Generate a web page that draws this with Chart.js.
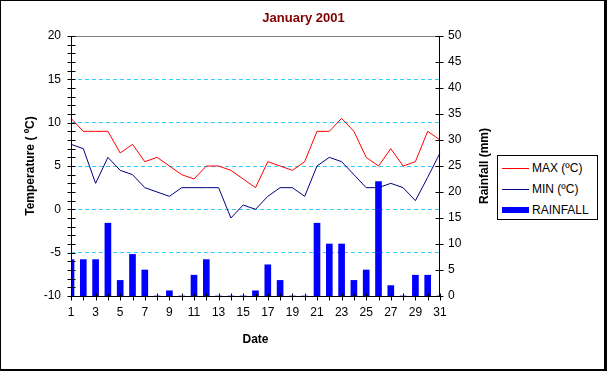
<!DOCTYPE html>
<html>
<head>
<meta charset="utf-8">
<script src="https://cdn.jsdelivr.net/npm/chart.js@4.4.1/dist/chart.umd.min.js"></script>
<style>
  body { margin: 0; background: #fff; }
  #wrap { position: relative; width: 607px; height: 371px; }
  #legend { position: absolute; left: 497px; top: 155px; width: 99px; height: 63px;
            border: 1px solid #000; background: #fff;
            font: 12px 'Liberation Sans', Arial, sans-serif; color: #000; }
  #legend .sw { position: absolute; left: 4px; width: 27px; }
  #legend .tx { position: absolute; left: 34px; height: 14px; line-height: 14px; white-space: nowrap; }
</style>
</head>
<body>
<div id="wrap">
  <canvas id="chart" width="607" height="371"></canvas>
  <div id="legend"></div>
</div>
<script>
const days = ['1','2','3','4','5','6','7','8','9','10','11','12','13','14','15','16',
              '17','18','19','20','21','22','23','24','25','26','27','28','29','30','31'];
const maxTemp = [10.5, 9, 9, 9, 6.5, 7.5, 5.5, 6, 5, 4, 3.5, 5, 5, 4.5, 3.5, 2.5,
                 5.5, 5, 4.5, 5.5, 9, 9, 10.5, 9, 6, 5, 7, 5, 5.5, 9, 8];
const minTemp = [7.5, 7, 3, 6, 4.5, 4, 2.5, 2, 1.5, 2.5, 2.5, 2.5, 2.5, -1, 0.5, 0,
                 1.5, 2.5, 2.5, 1.5, 5, 6, 5.5, 4, 2.5, 2.5, 3, 2.5, 1, 3.7, 6.5];
const rainfall = [7, 7, 7, 14, 3, 8, 5, 0, 1, 0, 4, 7, 0, 0, 0, 1,
                  6, 3, 0, 0, 14, 10, 10, 3, 5, 22, 2, 0, 4, 4, 0];

const FONT = "'Liberation Sans', Arial, sans-serif";
const tickFont = { family: FONT, size: 12 };
const titleFont = { family: FONT, size: 12, weight: 'bold' };

// axis lines, crossing tick marks, plot border, right axis title, outer frame
const framePlugin = {
    id: 'frame',
    afterDraw(chart) {
        const { ctx, chartArea, scales } = chart;
        const L = Math.round(chartArea.left) + 0.5;
        const R = Math.round(chartArea.right) - 0.5;
        const T = Math.round(chartArea.top) + 0.5;
        const B = Math.round(chartArea.bottom) + 0.5;
        ctx.save();
        ctx.lineWidth = 1;

        ctx.strokeStyle = '#808080';
        ctx.beginPath(); ctx.moveTo(L, T); ctx.lineTo(R, T); ctx.stroke();

        ctx.strokeStyle = '#000';
        ctx.beginPath();
        ctx.moveTo(L, T - 0.5); ctx.lineTo(L, B);
        ctx.moveTo(R, T - 0.5); ctx.lineTo(R, B);
        ctx.moveTo(L, B); ctx.lineTo(R, B);
        for (let v = -10; v <= 20; v++) {
            const y = Math.round(scales.temp.getPixelForValue(v)) + 0.5;
            ctx.moveTo(L - 4, y); ctx.lineTo(L + 4, y);
        }
        for (let v = 0; v <= 50; v += 5) {
            const y = Math.round(scales.rain.getPixelForValue(v)) + 0.5;
            ctx.moveTo(R - 4, y); ctx.lineTo(R + 4, y);
        }
        for (let i = 0; i < days.length; i++) {
            const x = Math.round(scales.x.getPixelForValue(i)) + 0.5;
            ctx.moveTo(x, B - 3); ctx.lineTo(x, B + 4);
        }
        ctx.stroke();

        ctx.fillStyle = '#000';
        ctx.font = 'bold 12px ' + FONT;
        ctx.textAlign = 'center';
        ctx.textBaseline = 'middle';
        ctx.translate(485, (chartArea.top + chartArea.bottom) / 2);
        ctx.rotate(-Math.PI / 2);
        ctx.fillText('Rainfall (mm)', 0, 0);
        ctx.restore();

        ctx.save();
        ctx.fillStyle = '#000';
        ctx.fillRect(0, 0, 607, 1);
        ctx.fillRect(0, 0, 1, 371);
        ctx.fillRect(604, 0, 3, 371);
        ctx.fillRect(0, 369, 607, 2);
        ctx.restore();
    }
};

const ctx = document.getElementById('chart').getContext('2d');
const chart = new Chart(ctx, {
    data: {
        labels: days,
        datasets: [
            { type: 'line', label: 'MAX (ºC)', data: maxTemp, yAxisID: 'temp',
              borderColor: '#ff0000', borderWidth: 1, pointRadius: 0, tension: 0, order: 1 },
            { type: 'line', label: 'MIN (ºC)', data: minTemp, yAxisID: 'temp',
              borderColor: '#000080', borderWidth: 1, pointRadius: 0, tension: 0, order: 1 },
            { type: 'bar', label: 'RAINFALL', data: rainfall, yAxisID: 'rain',
              backgroundColor: '#0000ff', borderWidth: 0, barThickness: 6, order: 0 }
        ]
    },
    options: {
        responsive: false,
        animation: false,
        devicePixelRatio: 1,
        layout: { padding: 0 },
        plugins: {
            legend: { display: false },
            tooltip: { enabled: false },
            title: {
                display: true,
                text: 'January 2001',
                color: '#800000',
                font: { family: FONT, size: 13, weight: 'bold' },
                padding: { top: 11, bottom: 9.4 }
            }
        },
        scales: {
            x: {
                type: 'category',
                offset: false,
                grid: { display: false, drawTicks: false },
                border: { display: false },
                ticks: {
                    autoSkip: false, maxRotation: 0, padding: 9, color: '#000', font: tickFont,
                    callback(value, i) { return i % 2 === 0 ? this.getLabelForValue(value) : ''; }
                },
                title: { display: true, text: 'Date', color: '#000', font: titleFont,
                         padding: { top: 0, bottom: 24 } },
                afterFit(scale) { scale.height = 75; }
            },
            temp: {
                position: 'left',
                min: -10, max: 20,
                ticks: { stepSize: 5, padding: 10, color: '#000', font: tickFont, autoSkip: false },
                grid: {
                    drawTicks: false,
                    lineWidth: 1,
                    color(c) {
                        const v = c.tick ? c.tick.value : null;
                        return (v !== null && v > -10 && v < 20) ? '#33ccff' : 'rgba(0,0,0,0)';
                    }
                },
                border: { display: false, dash: [4, 3] },
                title: { display: true, text: 'Temperature ( ºC)', color: '#000', font: titleFont,
                         padding: { top: 23, bottom: 0 } },
                afterFit(scale) { scale.width = 71; }
            },
            rain: {
                position: 'right',
                min: 0, max: 50,
                ticks: { stepSize: 5, padding: 8, color: '#000', font: tickFont, autoSkip: false },
                grid: { display: false, drawTicks: false },
                border: { display: false },
                afterFit(scale) { scale.width = 167; }
            }
        }
    },
    plugins: [framePlugin]
});

// html legend from the datasets
const legendEl = document.getElementById('legend');
const rowCentres = [12, 33, 54];
chart.data.datasets.forEach((ds, i) => {
    const sw = document.createElement('div');
    sw.className = 'sw';
    const isBar = ds.type === 'bar';
    const h = isBar ? 6 : 1;
    sw.style.top = (rowCentres[i] - Math.floor(h / 2)) + 'px';
    sw.style.height = h + 'px';
    sw.style.background = isBar ? ds.backgroundColor : ds.borderColor;
    const tx = document.createElement('div');
    tx.className = 'tx';
    tx.style.top = (rowCentres[i] - 7) + 'px';
    tx.textContent = ds.label;
    legendEl.appendChild(sw);
    legendEl.appendChild(tx);
});
</script>
</body>
</html>
